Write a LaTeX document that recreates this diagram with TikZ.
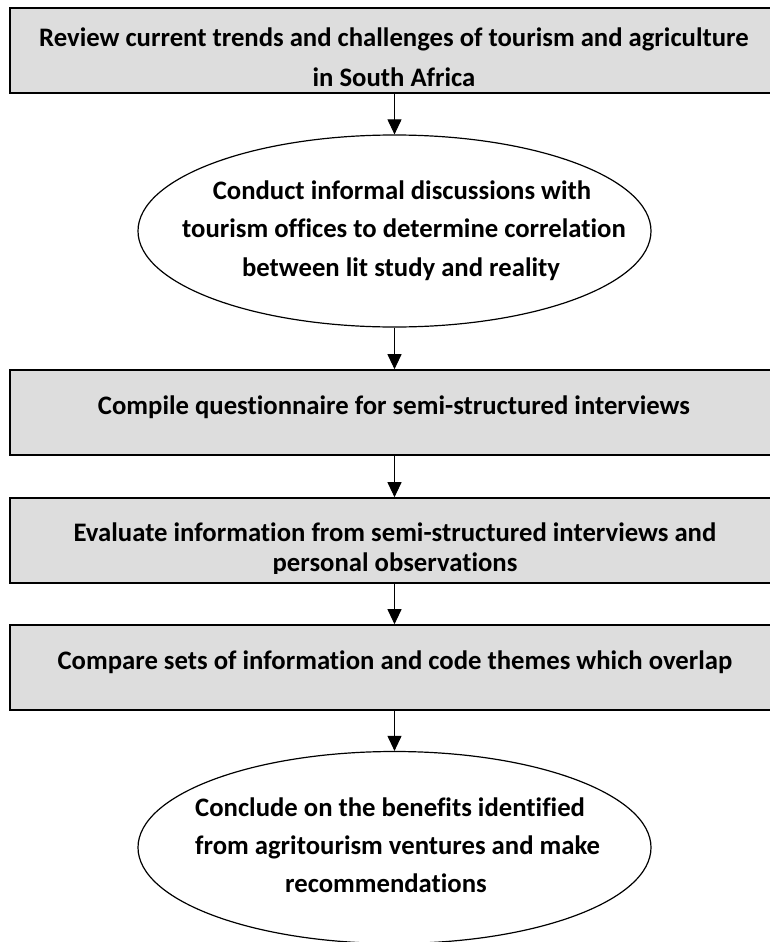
\documentclass[tikz,border=0pt]{standalone}
\usepackage{fontspec}
\setmainfont{Carlito}[Ligatures={NoCommon}]
\usetikzlibrary{arrows.meta,shapes.geometric}
\definecolor{boxfill}{RGB}{221,221,221}
\tikzset{
  stepbox/.style={draw=black, line width=1.6pt, fill=boxfill, rectangle,
    minimum width=769pt, minimum height=85pt, inner sep=0pt},
  oval/.style={draw=black, line width=1.2pt, fill=white, ellipse,
    minimum width=513pt, minimum height=192pt, inner sep=0pt},
  txt/.style={anchor=base, inner sep=0pt,
    font=\fontsize{26.7}{30}\selectfont\bfseries},
  flow/.style={-{Triangle[length=15pt,width=14pt]}, line width=1pt}
}
\begin{document}
\begin{tikzpicture}[x=1pt,y=-1pt]
\useasboundingbox (0,0) rectangle (770,942);
\fill[white] (0,0) rectangle (770,942);
\clip (0,0) rectangle (770,942);

% process steps
\node[stepbox] (b1) at (394.5,50.5) {};
\node[oval]    (e1) at (394.5,231) {};
\node[stepbox] (b2) at (394.5,412.5) {};
\node[stepbox] (b3) at (394.5,540.5) {};
\node[stepbox] (b4) at (394.5,667.5) {};
\node[oval]    (e2) at (394.5,847.5) {};

% connectors
\draw[flow] (b1.south) -- (e1.north);
\draw[flow] (e1.south) -- (b2.north);
\draw[flow] (b2.south) -- (b3.north);
\draw[flow] (b3.south) -- (b4.north);
\draw[flow] (b4.south) -- (e2.north);

% labels
\node[txt] (t1a) at (394,47) {Review current trends and challenges of tourism and agriculture};
\node[txt] (t1b) at (394,86) {in South Africa};

\node[txt] (t2a) at (402,199) {Conduct informal discussions with};
\node[txt] (t2b) at (404,237) {tourism offices to determine correlation};
\node[txt] (t2c) at (401,276) {between lit study and reality};

\node[txt] (t3) at (394,414) {Compile questionnaire for semi-structured interviews};

% the second line of this step is cut off just below its baseline
\begin{scope}
  \clip (10,499) rectangle (779,573);
  \node[txt] (t4a) at (395,541) {Evaluate information from semi-structured interviews and};
  \node[txt] (t4b) at (395,571) {personal observations};
\end{scope}

\node[txt] (t5) at (395,669) {Compare sets of information and code themes which overlap};

\node[txt, anchor=base west] (t6a) at (195,816) {Conclude on the benefits identified};
\node[txt, anchor=base west] (t6b) at (195,854) {from agritourism ventures and make};
\node[txt] (t6c) at (386,892) {recommendations};
\end{tikzpicture}
\end{document}
